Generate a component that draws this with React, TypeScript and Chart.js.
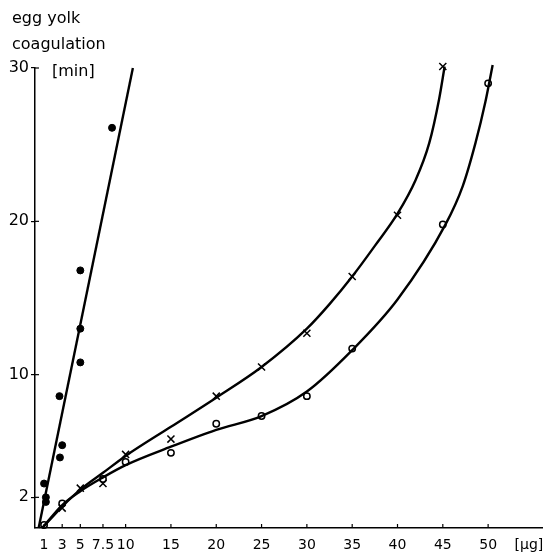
import React, { useEffect, useRef } from "react";
import { Chart, registerables } from "chart.js";

Chart.register(...registerables);

// Filled dots
const dotX = [1, 1.2, 1.2, 2.7, 2.75, 3, 5, 5, 5, 8.5];
const dotY = [2.9, 2.0, 1.7, 8.6, 4.6, 5.4, 10.8, 13.0, 16.8, 26.1];
const dotLineX = [0.4, 10.8];
const dotLineY = [0, 30];

// Crosses
const crossX = [3, 5, 7.5, 10, 15, 20, 25, 30, 35, 40, 45];
const crossY = [1.3, 2.6, 2.9, 4.8, 5.8, 8.6, 10.5, 12.7, 16.4, 20.4, 30.1];
const crossCurveX = [0.8, 3, 5, 7.5, 10, 15, 20, 25, 30, 32.5, 35, 37.5, 40, 42, 43.5, 44.6, 45.2];
const crossCurveY = [0, 1.4, 2.5, 3.6, 4.7, 6.6, 8.5, 10.5, 13.0, 14.6, 16.4, 18.4, 20.5, 22.7, 25.1, 28.0, 30.1];

// Open circles
const circleX = [1, 3, 7.5, 10, 15, 20, 25, 30, 35, 45, 50];
const circleY = [0.2, 1.6, 3.2, 4.3, 4.9, 6.8, 7.3, 8.6, 11.7, 19.8, 29.0];
const circleCurveX = [0.8, 3, 5, 7.5, 10, 15, 20, 25, 30, 35, 40, 45.3, 47.2, 48.6, 49.7, 50.5];
const circleCurveY = [0, 1.5, 2.4, 3.3, 4.1, 5.3, 6.4, 7.3, 8.9, 11.6, 14.9, 19.8, 22.3, 25.1, 27.8, 30.2];

const xTicks = [1, 3, 5, 7.5, 10, 15, 20, 25, 30, 35, 40, 45, 50, 54.5];
const xTickLabels = ["1", "3", "5", "7.5", "10", "15", "20", "25", "30", "35", "40", "45", "50", "[µg]"];
const yTicks = [2, 10, 20, 30];
const yTickLabels = ["2", "10", "20", "30"];

const titleLines = ["egg yolk", "coagulation"];
const unitLabel = "[min]";

const zip = (xs: number[], ys: number[]) => xs.map((x, i) => ({ x, y: ys[i] }));

const FONT = '"DejaVu Sans", sans-serif';

const extrasPlugin = {
  id: "extras",
  afterDraw(chart: any) {
    const ctx = chart.ctx;
    const xs = chart.scales.x;
    const ys = chart.scales.y;
    ctx.save();
    ctx.strokeStyle = "#000";
    ctx.lineWidth = 1.2;
    const yb = ys.getPixelForValue(0);
    xTicks.slice(0, xTicks.length - 1).forEach((v) => {
      const px = xs.getPixelForValue(v);
      ctx.beginPath();
      ctx.moveTo(px, yb);
      ctx.lineTo(px, yb - 4);
      ctx.stroke();
    });
    const xl = xs.getPixelForValue(0);
    yTicks.forEach((v) => {
      const py = ys.getPixelForValue(v);
      ctx.beginPath();
      ctx.moveTo(xl, py);
      ctx.lineTo(xl + 4, py);
      ctx.stroke();
    });
    ctx.fillStyle = "#000";
    ctx.font = "16px " + FONT;
    ctx.textAlign = "left";
    ctx.textBaseline = "alphabetic";
    ctx.fillText(titleLines[0], 12, 23);
    ctx.fillText(titleLines[1], 12, 49);
    ctx.fillText(unitLabel, 52, 76);
    ctx.restore();
  },
};

export default function App() {
  const ref = useRef<HTMLCanvasElement>(null);
  useEffect(() => {
    if (!ref.current) return;
    const lineBase = {
      type: "line" as const,
      showLine: true,
      pointRadius: 0,
      borderColor: "#000",
      borderWidth: 2.4,
      fill: false,
      clip: false as any,
    };
    const chart = new Chart(ref.current, {
      type: "scatter",
      data: {
        datasets: [
          { ...lineBase, data: zip(dotLineX, dotLineY), tension: 0 },
          { ...lineBase, data: zip(crossCurveX, crossCurveY), cubicInterpolationMode: "monotone" },
          { ...lineBase, data: zip(circleCurveX, circleCurveY), cubicInterpolationMode: "monotone" },
          {
            data: zip(dotX, dotY),
            pointStyle: "circle",
            pointRadius: 3.5,
            backgroundColor: "#000",
            borderColor: "#000",
            borderWidth: 1,
            clip: false as any,
          },
          {
            data: zip(crossX, crossY),
            pointStyle: "crossRot",
            pointRadius: 5,
            borderColor: "#000",
            borderWidth: 1.5,
            clip: false as any,
          },
          {
            data: zip(circleX, circleY),
            pointStyle: "circle",
            pointRadius: 3.2,
            backgroundColor: "#fff",
            borderColor: "#000",
            borderWidth: 1.5,
            clip: false as any,
          },
        ] as any,
      },
      options: {
        animation: false,
        responsive: false,
        maintainAspectRatio: false,
        layout: { padding: { top: 68, right: 6, left: 0, bottom: 0 } },
        plugins: { legend: { display: false }, tooltip: { enabled: false }, title: { display: false } },
        scales: {
          x: {
            type: "linear",
            min: 0,
            max: 56,
            grid: { display: false, drawTicks: false },
            border: { display: true, color: "#000", width: 1.5 },
            afterBuildTicks: (s: any) => {
              s.ticks = xTicks.map((v) => ({ value: v }));
            },
            afterFit: (s: any) => {
              s.height = 27;
              s.paddingLeft = 0;
              s.paddingRight = 0;
            },
            ticks: {
              autoSkip: false,
              maxRotation: 0,
              padding: 9,
              color: "#000",
              font: { family: FONT, size: 14 },
              callback: (v: any) => {
                const i = xTicks.indexOf(Number(v));
                return i >= 0 ? xTickLabels[i] : "";
              },
            },
          },
          y: {
            type: "linear",
            min: 0,
            max: 30,
            grid: { display: true, drawOnChartArea: false, drawTicks: true, tickLength: 4, color: "#000", lineWidth: 1.2 },
            border: { display: true, color: "#000", width: 1.5 },
            afterBuildTicks: (s: any) => {
              s.ticks = yTicks.map((v) => ({ value: v }));
            },
            afterFit: (s: any) => {
              s.width = 35;
              s.paddingTop = 0;
              s.paddingBottom = 0;
            },
            ticks: {
              autoSkip: false,
              padding: 2,
              color: "#000",
              font: { family: FONT, size: 16 },
              callback: (v: any) => {
                const i = yTicks.indexOf(Number(v));
                return i >= 0 ? yTickLabels[i] : "";
              },
            },
          },
        },
      } as any,
      plugins: [extrasPlugin],
    });
    return () => chart.destroy();
  }, []);
  return (
    <div style={{ position: "fixed", left: 0, top: 0, width: 549, height: 555, background: "#fff" }}>
      <canvas ref={ref} width={549} height={555} style={{ width: 549, height: 555 }} />
    </div>
  );
}
